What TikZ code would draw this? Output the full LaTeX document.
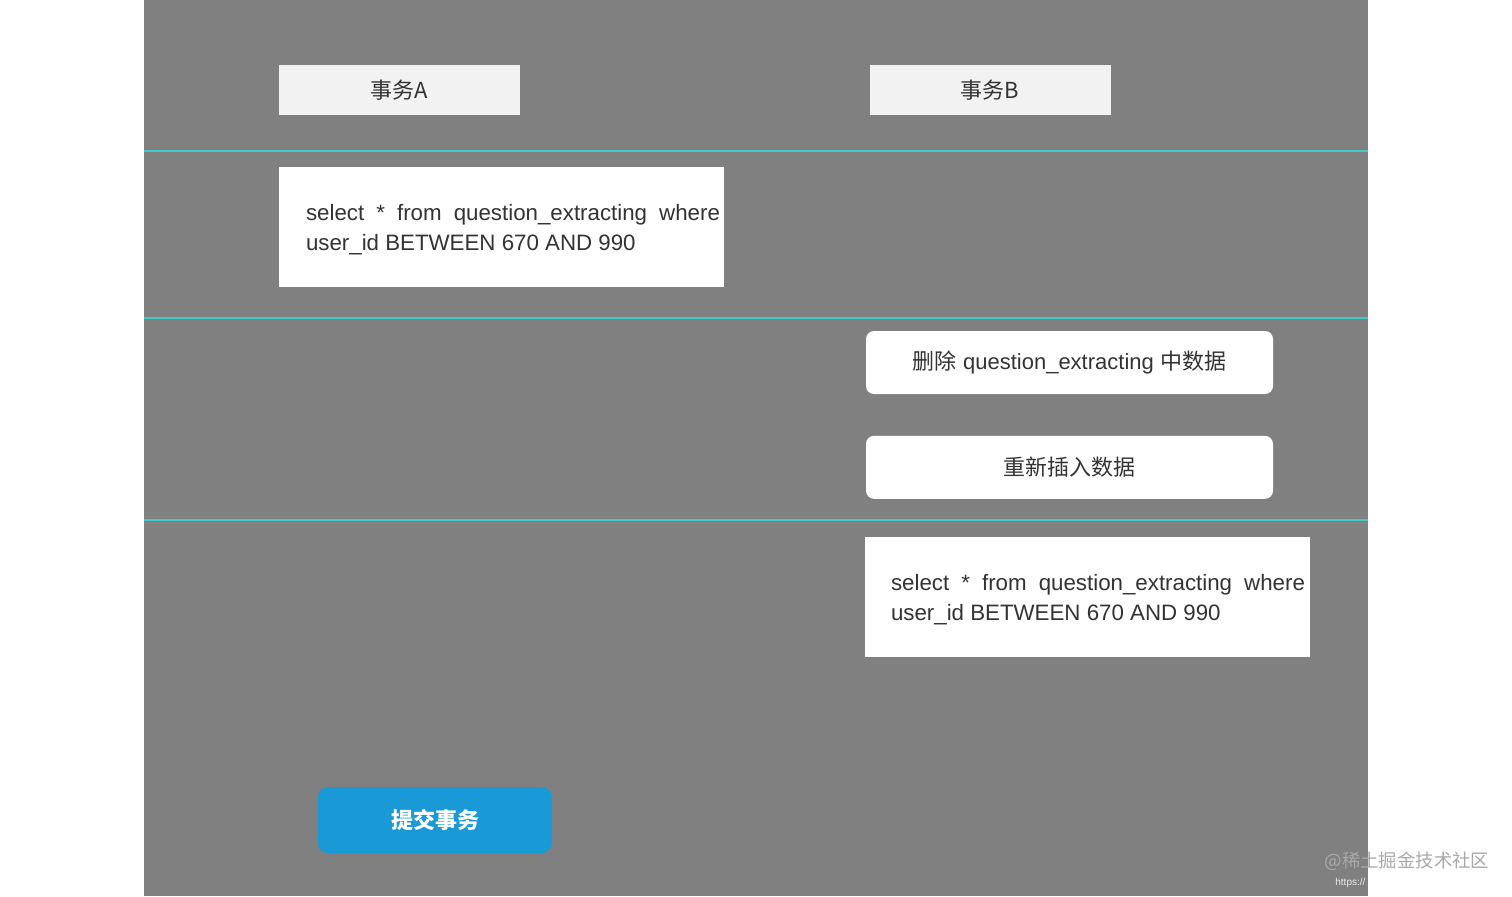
\documentclass[tikz,border=0pt]{standalone}
\usepackage{fontspec}
\setmainfont{Liberation Sans}
\newfontfamily\cjk{Noto Sans CJK SC}
\usetikzlibrary{positioning}

\definecolor{bggray}{HTML}{808080}
\definecolor{headgray}{HTML}{F2F2F2}
\definecolor{sepcyan}{HTML}{3CCBCB}
\definecolor{txtgray}{HTML}{333333}
\definecolor{btnblue}{HTML}{199AD6}
\definecolor{wmgray}{HTML}{A9A9A9}

\begin{document}
\begin{tikzpicture}[x=0.5pt,y=-0.5pt,
  every node/.style={inner sep=0pt,font=\fontsize{11}{15}\selectfont,text=txtgray},
  head/.style={fill=headgray,minimum width=120.5pt,minimum height=25pt},
  sqlbox/.style={fill=white,minimum width=222.5pt,minimum height=60pt},
  sqltext/.style={anchor=west,text width=207pt,align=justify,font=\fontsize{11.15}{15}\selectfont},
  stepbox/.style={fill=white,rounded corners=4pt,minimum width=203.5pt,minimum height=31.5pt},
  commit/.style={fill=btnblue,rounded corners=5pt,minimum width=117pt,minimum height=33pt,text=white,font=\fontsize{11}{15}\selectfont\bfseries},
  sep/.style={sepcyan,line width=1pt}]

% background
\fill[white] (0,0) rectangle (1512,896);
\fill[bggray] (144,0) rectangle (1368,896);
\foreach \y in {151,318,520}
  \draw[sep] (144,\y) -- (1368,\y);

% headers
\node[head] (txA) at (399.5,90) {\cjk 事务A};
\node[head] (txB) at (990,90) {\cjk 事务B};

% transaction A
\node[sqlbox] (selA) at (501.5,227) {};
\node[sqltext] (selAtxt) at ([xshift=13.5pt,yshift=-1.5pt]selA.west)
  {select * from question\_extracting where\linebreak user\_id BETWEEN 670 AND 990};

% transaction B
\node[stepbox] (del) at (1069.5,362.5) {\raisebox{-0.8pt}{{\cjk 删除} question\_extracting {\cjk 中数据}}};
\node[stepbox] (ins) [below=20.5pt of del] {\cjk 重新插入数据};
\node[sqlbox] (selB) at (1087.5,597) {};
\node[sqltext] (selBtxt) at ([xshift=13pt,yshift=-1.5pt]selB.west)
  {select * from question\_extracting where\linebreak user\_id BETWEEN 670 AND 990};

% commit
\node[commit] (cm) at (435,820) {\cjk\bfseries 提交事务};

% watermark
\node[text=wmgray,font=\fontsize{9.2}{10}\selectfont] (wm) at (1407,861) {\cjk @稀土掘金技术社区};
\node[text=white!85!gray,font=\fontsize{5}{6}\selectfont,anchor=west] (wmurl) at (1335,883) {https://};
\end{tikzpicture}
\end{document}
